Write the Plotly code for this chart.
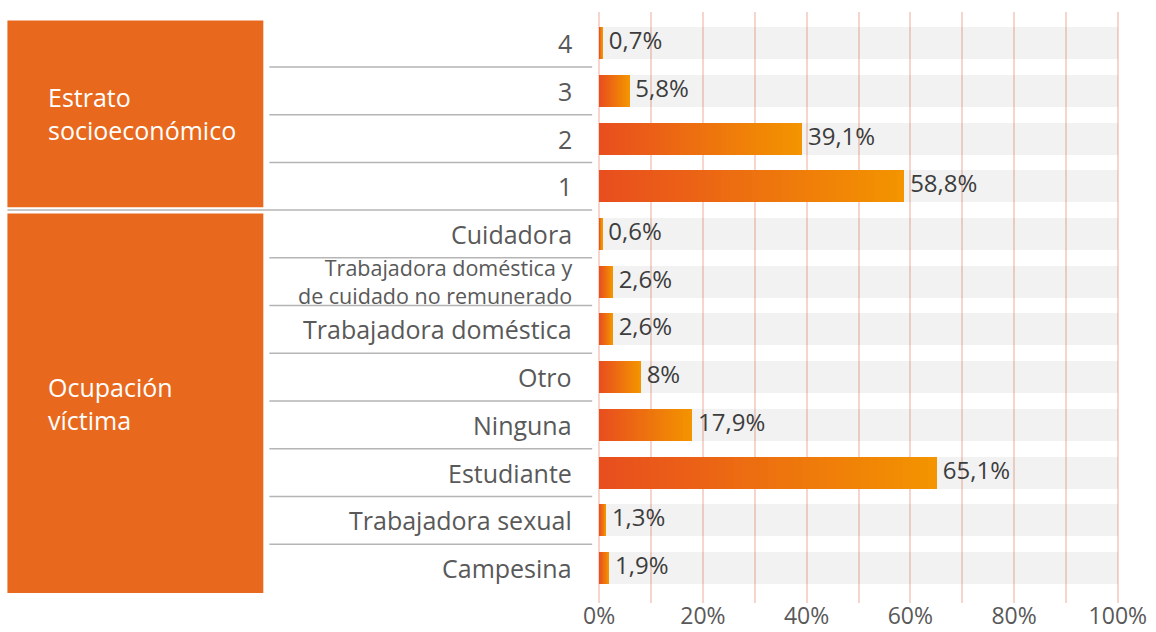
import plotly.graph_objects as go

# ---------------- data ----------------
categories = ["4", "3", "2", "1",
              "Cuidadora",
              "Trabajadora doméstica y<br>de cuidado no remunerado",
              "Trabajadora doméstica", "Otro", "Ninguna", "Estudiante",
              "Trabajadora sexual", "Campesina"]
values = [0.7, 5.8, 39.1, 58.8, 0.6, 2.6, 2.6, 8, 17.9, 65.1, 1.3, 1.9]
groups = ["Estrato<br>socioeconómico", "Ocupación<br>víctima"]
group_sizes = [4, 8]
x_ticks = [0, 20, 40, 60, 80, 100]
x_ticktext = ["0%", "20%", "40%", "60%", "80%", "100%"]

# ---------------- style ----------------
FONT = "Open Sans"
C_LEFT = (232, 78, 30)
C_RIGHT = (243, 148, 0)
ORANGE_BOX = "#e8691e"
LABEL_COL = "#595959"
VALUE_COL = "#3d3d3d"
GRID_COL = "#f6d6cc"
SEP_COL = "#b5b5b5"
BAR_W = 0.67
N_SEG = 40

ys = list(range(len(categories)))

fig = go.Figure()

# gray 100% background bands
fig.add_trace(go.Bar(y=ys, x=[100] * len(ys), base=0, orientation="h",
                     width=BAR_W, marker=dict(color="rgba(0,0,0,0.05)", line_width=0),
                     hoverinfo="skip", showlegend=False))

# gradient bars: stacked overlapping segments from left to right
for k in range(N_SEG):
    t = k / (N_SEG - 1)
    col = "rgb({},{},{})".format(*[round(a + (b - a) * t) for a, b in zip(C_LEFT, C_RIGHT)])
    fig.add_trace(go.Bar(
        y=ys, x=[v * (N_SEG - k) / N_SEG for v in values],
        base=[v * k / N_SEG for v in values], orientation="h",
        width=BAR_W, marker=dict(color=col, line_width=0),
        hoverinfo="skip", showlegend=False))

# value labels
fig.add_trace(go.Scatter(
    y=ys, x=values, mode="markers+text",
    marker=dict(size=8, opacity=0),
    text=[("{:g}".format(v)).replace(".", ",") + "%" for v in values],
    textposition="middle right",
    textfont=dict(family=FONT, size=24, color=VALUE_COL),
    cliponaxis=False, hoverinfo="skip", showlegend=False))

# ---------------- decorations (left panel) ----------------
L_PX, R_PX, W_PX = 594.8, 1122.0, 1156


def px2paper(px):
    return (px - L_PX) / (R_PX - L_PX)


shapes = []
annotations = []
start = 0
for gi, (g, n) in enumerate(zip(groups, group_sizes)):
    y0 = start - 0.47 if gi == 0 else start - 0.43
    y1 = start + n - 1 + (0.44 if gi < len(groups) - 1 else 0.52)
    shapes.append(dict(type="rect", xref="paper", yref="y",
                       x0=px2paper(7), x1=px2paper(263), y0=y0, y1=y1,
                       fillcolor=ORANGE_BOX, line_width=0, layer="above"))
    annotations.append(dict(xref="paper", yref="y", x=px2paper(46), y=(y0 + y1) / 2,
                            text=g, showarrow=False, xanchor="left", yanchor="middle",
                            align="left",
                            font=dict(family=FONT, size=25, color="white")))
    start += n

# separator lines
bounds = []
acc = 0
for n in group_sizes:
    acc += n
    bounds.append(acc)
for i in range(len(categories) - 1):
    full = (i + 1) in bounds
    shapes.append(dict(type="line", xref="paper", yref="y",
                       x0=px2paper(7 if full else 269), x1=px2paper(592),
                       y0=i + 0.5, y1=i + 0.5,
                       line=dict(color=SEP_COL, width=1.5)))

# category labels
for y, c in zip(ys, categories):
    multi = "<br>" in c
    annotations.append(dict(xref="paper", yref="y", x=px2paper(574), y=y,
                            text=c, showarrow=False, xanchor="right", yanchor="middle",
                            align="right",
                            font=dict(family=FONT, size=21.5 if multi else 25,
                                      color=LABEL_COL)))

fig.update_layout(
    width=W_PX, height=632,
    margin=dict(l=L_PX, r=W_PX - R_PX, t=12, b=29),
    paper_bgcolor="white", plot_bgcolor="white",
    barmode="overlay", bargap=0,
    shapes=shapes, annotations=annotations,
    xaxis=dict(range=[-0.8, 100.8], tickvals=x_ticks, ticktext=x_ticktext,
               showgrid=True, gridcolor=GRID_COL, gridwidth=2,
               minor=dict(dtick=10, tick0=0, showgrid=True, gridcolor=GRID_COL, gridwidth=2),
               zeroline=False, showline=False, ticks="", automargin=False,
               ticklabelstandoff=-3,
               tickfont=dict(family=FONT, size=23, color=LABEL_COL)),
    yaxis=dict(range=[len(categories) - 1 + 0.73, -0.65], showticklabels=False,
               showgrid=False, zeroline=False, showline=False, ticks="",
               automargin=False),
)

fig.write_html("out.html", config={"displayModeBar": False},
               post_script="document.body.style.margin='0';document.body.style.overflow='hidden';")
